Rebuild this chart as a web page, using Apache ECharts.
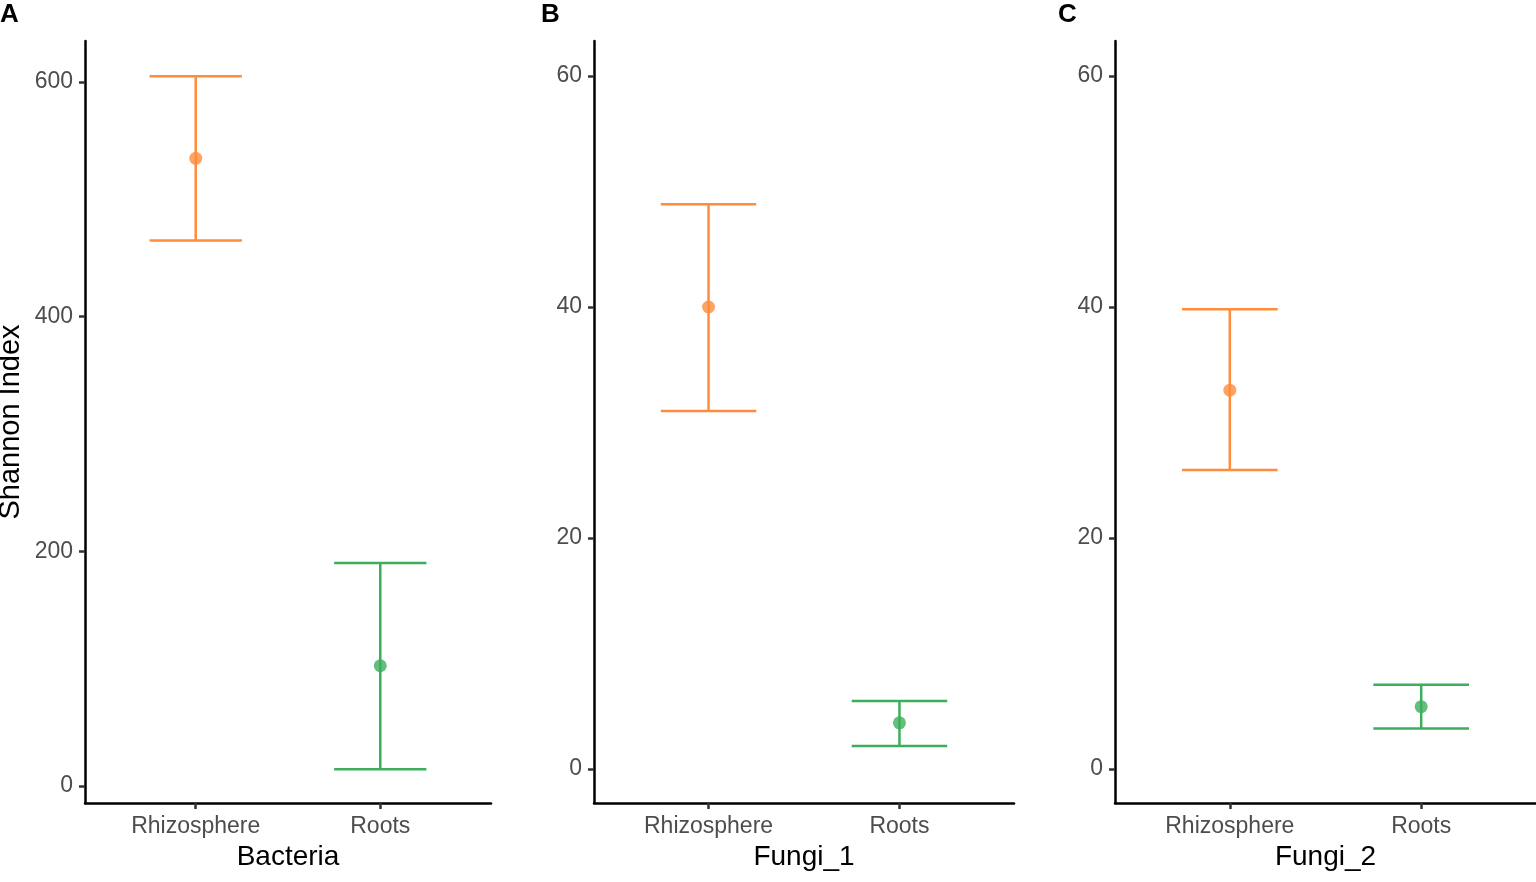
<!DOCTYPE html>
<html>
<head>
<meta charset="utf-8">
<script src="https://cdn.jsdelivr.net/npm/echarts@6/dist/echarts.min.js"></script>
<style>
  html, body { margin: 0; padding: 0; background: #fff; }
  #main { width: 1536px; height: 882px; }
</style>
</head>
<body>
<div id="main"></div>
<script>
// groups on the x axis
var categories = ['Rhizosphere', 'Roots'];
var panelTitles = ['Bacteria', 'Fungi_1', 'Fungi_2'];
var panelLetters = ['A', 'B', 'C'];

// Shannon index, mean and error bar ends (Rhizosphere, Roots)
var bacteriaMean = [535, 102.5];
var bacteriaLow  = [465, 14.3];
var bacteriaHigh = [605, 190];

var fungi1Mean = [40, 4.0];
var fungi1Low  = [31.0, 2.0];
var fungi1High = [48.9, 5.9];

var fungi2Mean = [32.8, 5.4];
var fungi2Low  = [25.9, 3.5];
var fungi2High = [39.8, 7.3];

// tick labels
var bacteriaTicks = [0, 200, 400, 600];
var fungiTicks = [0, 20, 40, 60];

var colors = ['#FF8C3B', '#3DAE5B'];

var chart = echarts.init(document.getElementById('main'));

var panels = [
  { mean: bacteriaMean, low: bacteriaLow, high: bacteriaHigh, ticks: bacteriaTicks, min: -14.5, max: 635 },
  { mean: fungi1Mean, low: fungi1Low, high: fungi1High, ticks: fungiTicks, min: -2.94, max: 63.03 },
  { mean: fungi2Mean, low: fungi2Low, high: fungi2High, ticks: fungiTicks, min: -2.94, max: 63.03 }
];
var gridPos = [
  { left: 85, width: 406, letter: 0 },
  { left: 594, width: 420, letter: 541 },
  { left: 1115, width: 421, letter: 1058 }
];

var grid = [], xAxis = [], yAxis = [], series = [], graphic = [];

panels.forEach(function (p, i) {
  grid.push({
    left: gridPos[i].left, width: gridPos[i].width, top: 41, height: 762,
    containLabel: false, outerBoundsMode: 'none'
  });
  xAxis.push({
    type: 'value', gridIndex: i, min: 0.4, max: 2.6,
    name: panelTitles[i], nameLocation: 'middle', nameGap: 38,
    nameTextStyle: { fontFamily: 'Liberation Sans', fontSize: 28, color: '#000' },
    splitLine: { show: false },
    axisLine: { onZero: false, lineStyle: { color: '#000', width: 2.5 } },
    axisTick: { show: true, length: 6, customValues: [1, 2], lineStyle: { color: '#333', width: 2.5 } },
    axisLabel: {
      customValues: [1, 2], margin: 12,
      fontFamily: 'Liberation Sans', fontSize: 23, color: '#4D4D4D',
      formatter: function (v) { return categories[Math.round(v) - 1] || ''; }
    }
  });
  yAxis.push({
    type: 'value', gridIndex: i, min: p.min, max: p.max,
    name: i === 0 ? 'Shannon Index' : '', nameLocation: 'middle', nameGap: 60,
    nameTextStyle: { fontFamily: 'Liberation Sans', fontSize: 29, color: '#000' },
    splitLine: { show: false },
    axisLine: { show: true, onZero: false, lineStyle: { color: '#000', width: 2.5 } },
    axisTick: { show: true, length: 6, customValues: p.ticks, lineStyle: { color: '#333', width: 2.5 } },
    axisLabel: {
      customValues: p.ticks, margin: 12,
      fontFamily: 'Liberation Sans', fontSize: 23, color: '#4D4D4D'
    }
  });

  var barData = categories.map(function (c, k) {
    return { value: [k + 1, p.low[k], p.high[k]], itemStyle: { color: colors[k] } };
  });
  series.push({
    type: 'custom', xAxisIndex: i, yAxisIndex: i, data: barData,
    renderItem: function (params, api) {
      var x = api.value(0);
      var lo = api.coord([x, api.value(1)]);
      var hi = api.coord([x, api.value(2)]);
      var l = api.coord([x - 0.25, api.value(1)])[0];
      var r = api.coord([x + 0.25, api.value(1)])[0];
      var style = { stroke: api.visual('color'), lineWidth: 2.5 };
      return {
        type: 'group',
        children: [
          { type: 'line', shape: { x1: lo[0], y1: lo[1], x2: hi[0], y2: hi[1] }, style: style },
          { type: 'line', shape: { x1: l, y1: lo[1], x2: r, y2: lo[1] }, style: style },
          { type: 'line', shape: { x1: l, y1: hi[1], x2: r, y2: hi[1] }, style: style }
        ]
      };
    }
  });
  series.push({
    type: 'scatter', xAxisIndex: i, yAxisIndex: i, symbolSize: 13,
    data: categories.map(function (c, k) {
      return { value: [k + 1, p.mean[k]], itemStyle: { color: colors[k] } };
    })
  });

  graphic.push({
    type: 'text', left: gridPos[i].letter, top: 2,
    style: { text: panelLetters[i], fontFamily: 'Liberation Sans', fontWeight: 'bold', fontSize: 26, fill: '#000' }
  });
});

chart.setOption({
  backgroundColor: '#fff',
  animation: false,
  grid: grid,
  xAxis: xAxis,
  yAxis: yAxis,
  series: series,
  graphic: graphic
});
</script>
</body>
</html>
